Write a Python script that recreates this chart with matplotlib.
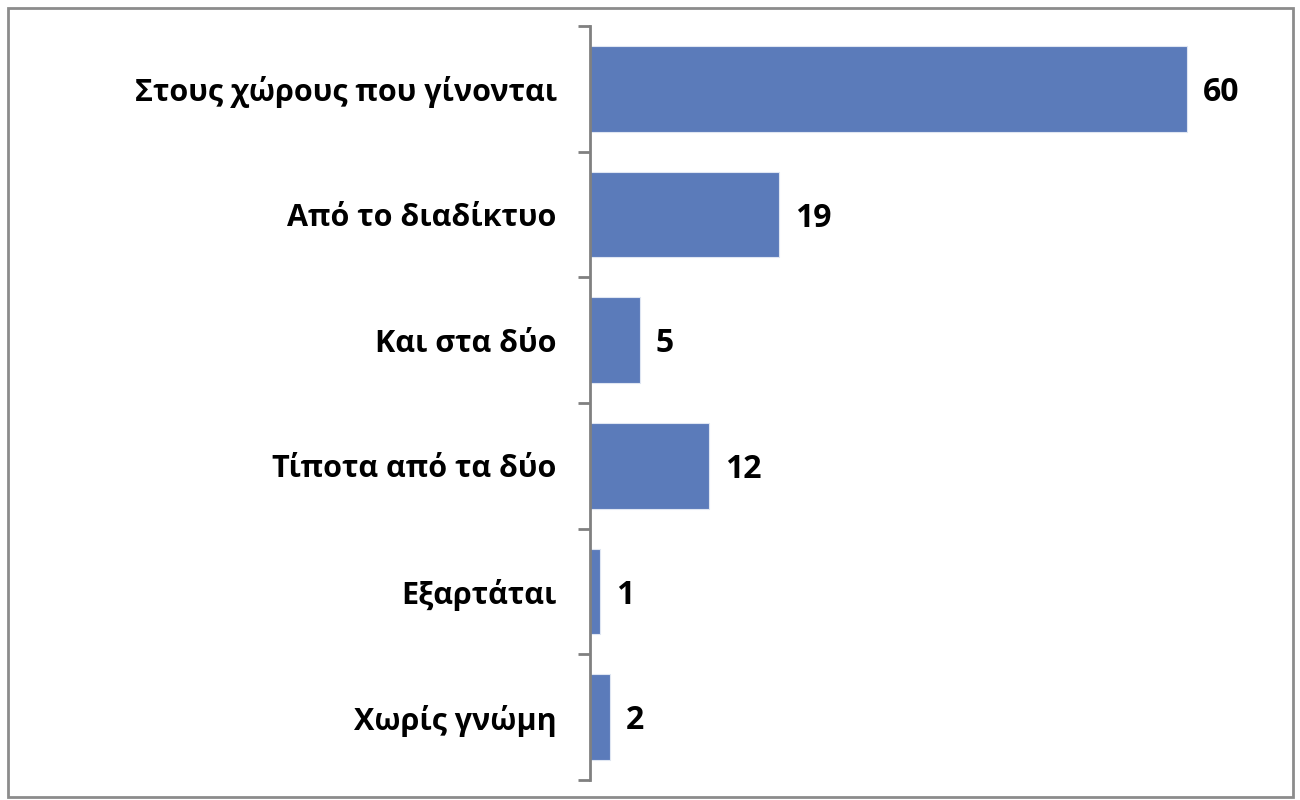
import matplotlib
matplotlib.use("Agg")
import matplotlib.pyplot as plt
from matplotlib.patches import Rectangle
from matplotlib.ticker import FixedLocator

categories = ["Στους χώρους που γίνονται", "Από το διαδίκτυο", "Και στα δύο",
              "Τίποτα από τα δύο", "Εξαρτάται", "Χωρίς γνώμη"]
values = [60, 19, 5, 12, 1, 2]

plt.rcParams['font.family'] = ['Open Sans', 'DejaVu Sans']

fig = plt.figure(figsize=(13, 8), dpi=100)
fig.patches.append(Rectangle((8/1300, 3/800), 1285/1300, 789/800, transform=fig.transFigure,
                             fill=False, edgecolor="#8c8c8c", linewidth=2))
ax = fig.add_axes([590/1300, 20/800, 700/1300, 754/800])

ypos = list(range(len(categories)))
ax.barh(ypos, values, height=0.68, color="#5b7bba", edgecolor="#dfe6f2", linewidth=0.8)
ax.set_ylim(len(categories) - 0.5, -0.5)
ax.set_xlim(0, 700 / 9.95)

for y, v in zip(ypos, values):
    ax.text(v + 1.6, y + 0.03, str(v), va="center", ha="left", fontsize=23, fontweight="bold")

ax.set_yticks(ypos)
ax.set_yticklabels(categories, fontsize=22, fontweight="bold")
ax.yaxis.set_minor_locator(FixedLocator([i - 0.5 for i in range(len(categories) + 1)]))
ax.tick_params(axis="y", which="major", length=0, pad=24)
ax.tick_params(axis="y", which="minor", length=9, width=2, color="#808080", direction="out")
ax.set_xticks([])
for s in ["top", "right", "bottom"]:
    ax.spines[s].set_visible(False)
ax.spines["left"].set_color("#808080")
ax.spines["left"].set_linewidth(2)

fig.savefig("out.png", dpi=100)
